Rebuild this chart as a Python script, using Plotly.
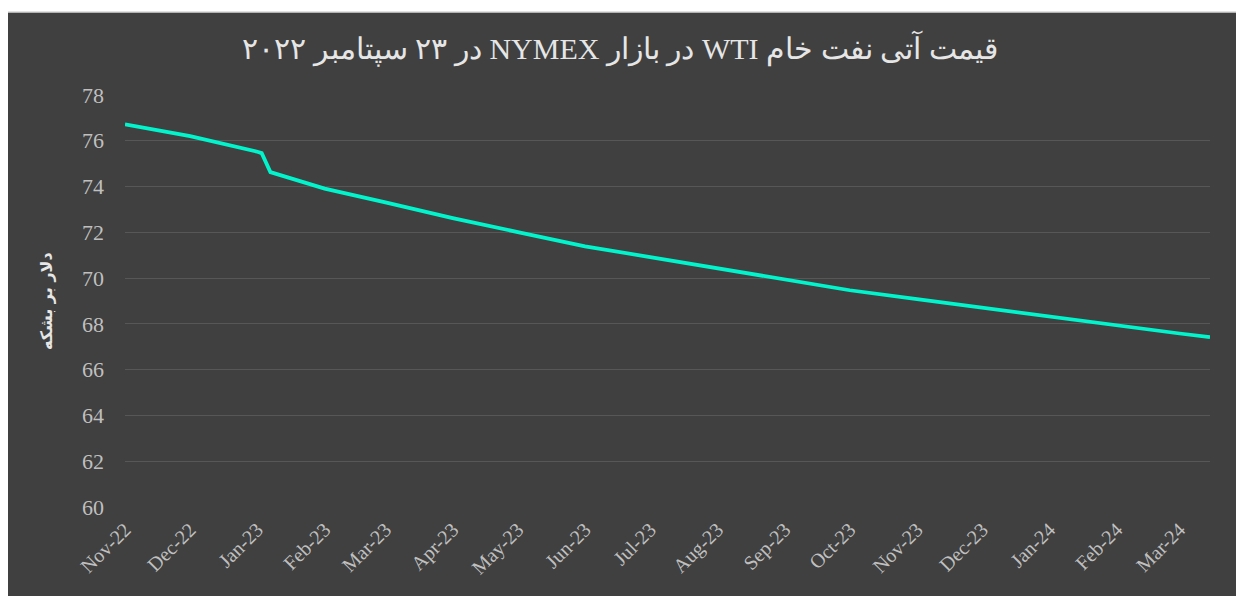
import plotly.graph_objects as go

# Data
dates = ["2022-11-01", "2022-12-01", "2023-01-01", "2023-01-03", "2023-01-07",
         "2023-02-01", "2023-03-01", "2023-04-01", "2023-05-01", "2023-06-01",
         "2023-07-01", "2023-08-01", "2023-09-01", "2023-10-01", "2023-11-01",
         "2023-12-01", "2024-01-01", "2024-02-01", "2024-03-01", "2024-03-15"]
prices = [76.72, 76.20, 75.52, 75.46, 74.63,
          73.91, 73.31, 72.62, 72.01, 71.39,
          70.92, 70.43, 69.94, 69.47, 69.08,
          68.70, 68.30, 67.93, 67.58, 67.42]

tick_dates = ["2022-11-01", "2022-12-01", "2023-01-01", "2023-02-01", "2023-03-01",
              "2023-04-01", "2023-05-01", "2023-06-01", "2023-07-01", "2023-08-01",
              "2023-09-01", "2023-10-01", "2023-11-01", "2023-12-01", "2024-01-01",
              "2024-02-01", "2024-03-01"]
tick_labels = ["Nov-22", "Dec-22", "Jan-23", "Feb-23", "Mar-23", "Apr-23", "May-23",
               "Jun-23", "Jul-23", "Aug-23", "Sep-23", "Oct-23", "Nov-23", "Dec-23",
               "Jan-24", "Feb-24", "Mar-24"]

title_text = "قیمت آتی نفت خام WTI در بازار NYMEX در ۲۳ سپتامبر ۲۰۲۲"
y_title = "دلار بر بشکه"

# figure sits 8px inside the page (body margin)
W, H = 1236, 588
L, R, T, B = 117, 34, 87, 89
pw = W - L - R
ph = H - T - B

BG = "#404040"
fig = go.Figure()
fig.add_trace(go.Scatter(x=dates, y=prices, mode="lines",
                         line=dict(color="#00F5CC", width=3.75),
                         hoverinfo="x+y", showlegend=False))

fig.update_layout(
    width=W, height=H,
    margin=dict(l=L, r=R, t=T, b=B),
    paper_bgcolor="white",
    plot_bgcolor=BG,
    font=dict(family="Liberation Serif, DejaVu Serif, serif", color="#BFBFBF"),
    title=dict(text="\u202B" + title_text + "\u202C", x=612 / W, xref="container",
               xanchor="center",
               y=1 - 40 / H, yref="container", yanchor="middle",
               font=dict(size=30, color="#E6E6E6",
                         family="Liberation Serif, DejaVu Serif, serif")),
    xaxis=dict(type="date", range=[dates[0], dates[-1]],
               tickmode="array", tickvals=tick_dates, ticktext=tick_labels,
               tickangle=-45, tickfont=dict(size=20, color="#BFBFBF"),
               showgrid=False, zeroline=False, showline=False, ticks="",
               ticklabelstandoff=6),
    yaxis=dict(range=[60, 78], dtick=2, tick0=60,
               tickfont=dict(size=22, color="#BFBFBF"),
               showgrid=True, gridcolor="#575757", gridwidth=1,
               zeroline=False, showline=False, ticks="",
               ticklabelstandoff=20),
    shapes=[dict(type="rect", xref="paper", yref="paper",
                 x0=(-1 - L) / pw, x1=(W - L + 2) / pw,
                 y0=-(B + 2) / ph, y1=(H - 4 - B) / ph,
                 fillcolor=BG, line=dict(color="#D9D9D9", width=1.5),
                 layer="below")],
    annotations=[dict(text="<b>" + y_title + "</b>", textangle=-90,
                      xref="paper", yref="paper",
                      x=(38 - L) / pw, y=(H - B - 293) / ph,
                      xanchor="center", yanchor="middle", showarrow=False,
                      font=dict(size=16, color="#E6E6E6",
                                family="DejaVu Sans, Noto Sans, sans-serif"))],
)

fig.write_html("out.html")
